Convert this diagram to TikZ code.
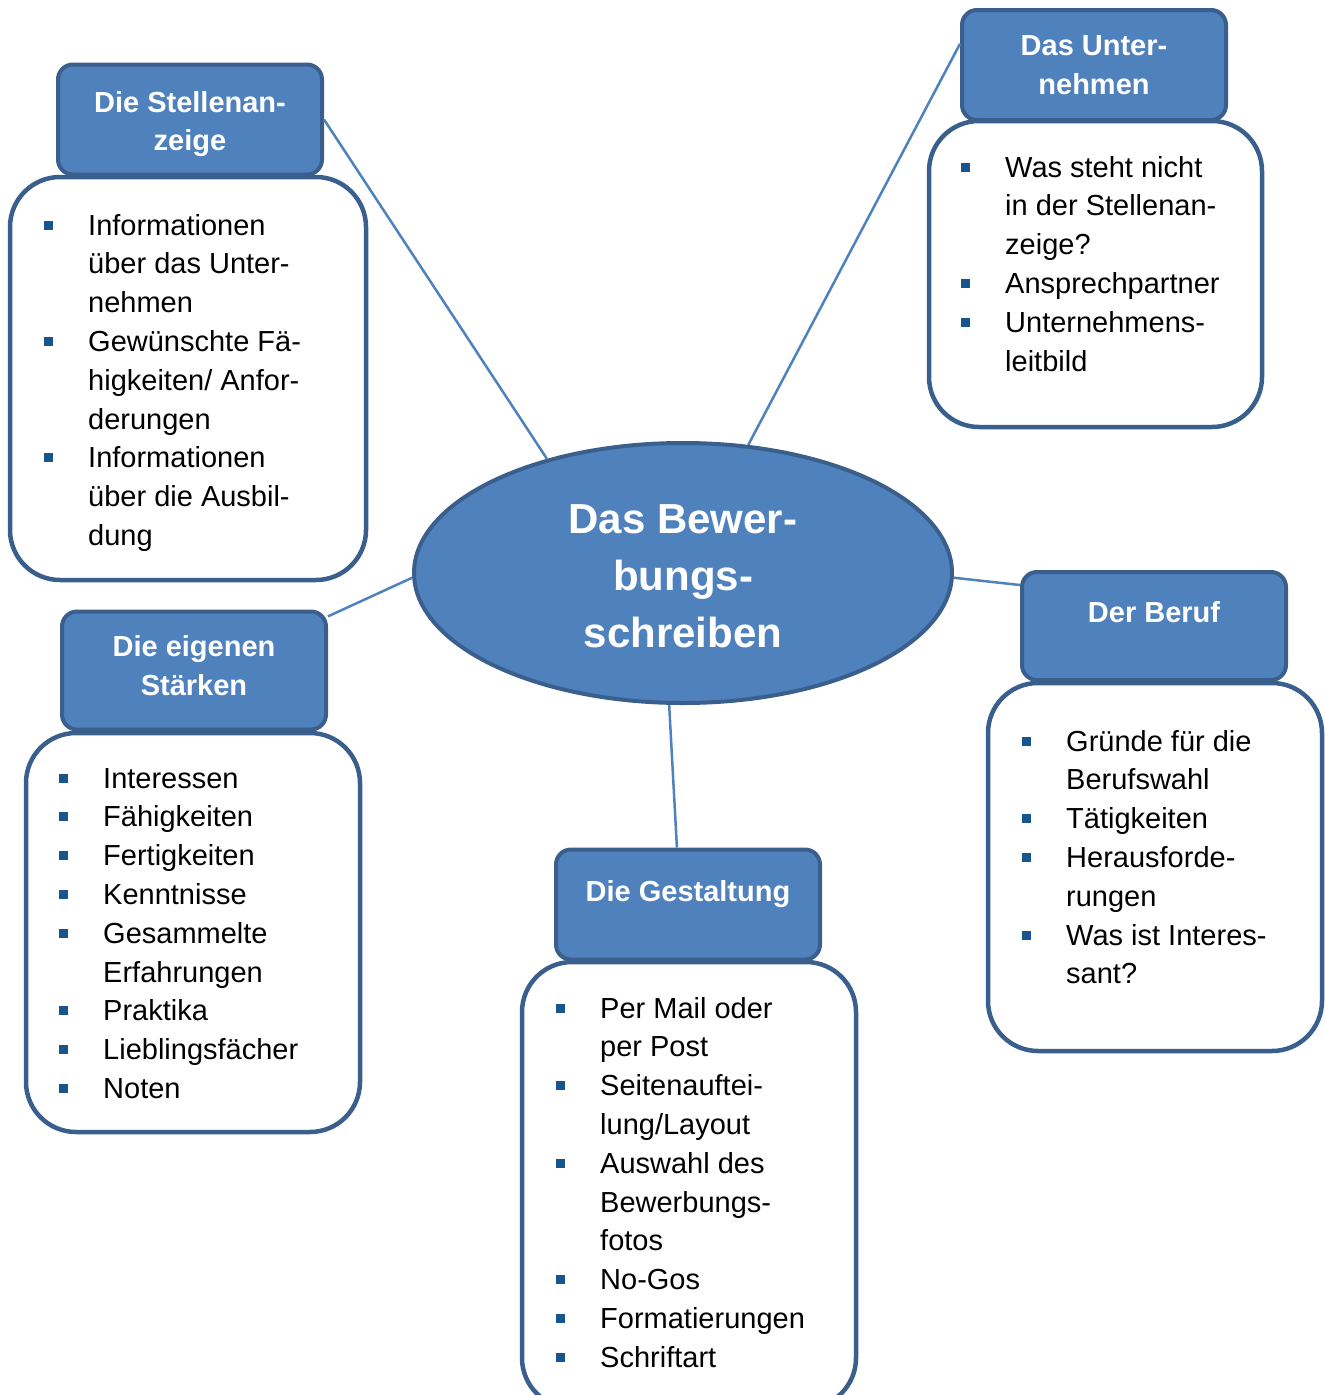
\documentclass[tikz,border=0pt]{standalone}
\usepackage{fontspec}
\setmainfont{Liberation Sans}
\usetikzlibrary{shapes.geometric}
\definecolor{fillb}{HTML}{4F81BD}
\definecolor{edgeb}{HTML}{3A5F8C}
\definecolor{bulc}{HTML}{17558F}
\newcommand\B{\llap{\textcolor{bulc}{\raisebox{5.5pt}{\rule{9pt}{9pt}}}\hspace{35.5pt}}}
\tikzset{
  hdr/.style={draw=edgeb, line width=4pt, fill=fillb, rounded corners=15pt,
    minimum width=264pt, minimum height=110pt, inner sep=0pt},
  bodybox/.style={draw=edgeb, line width=4.5pt, fill=white, rounded corners=50pt, inner sep=0pt},
  htxt/.style={anchor=base, text=white, font=\bfseries\fontsize{29}{35}\selectfont, inner sep=0pt},
  ctxt/.style={anchor=base, text=white, font=\bfseries\fontsize{42}{50}\selectfont, inner sep=0pt},
  item/.style={anchor=base west, font=\fontsize{29}{35}\selectfont, inner sep=0pt},
  link/.style={draw=fillb, line width=2.5pt}
}
\begin{document}
\begin{tikzpicture}[x=1pt,y=-1pt]
\useasboundingbox (0,0) rectangle (1325,1395);
\clip (0,0) rectangle (1325,1395);

% centre
\node[ellipse, draw=edgeb, line width=4pt, fill=fillb, minimum width=538pt, minimum height=260pt, inner sep=0pt] (ell) at (683,573) {};
\node[ctxt] (c1) at (683,533) {Das Bewer-};
\node[ctxt] (c2) at (683,590) {bungs-};
\node[ctxt] (c3) at (683,647) {schreiben};

% A: Stellenanzeige
\node[bodybox, minimum width=356pt, minimum height=403pt] (bA) at (188,378.5) {};
\node[hdr] (hA) at (190,119.5) {};
\node[htxt] (hA1) at (190,112) {Die Stellenan-};
\node[htxt] (hA2) at (190,150) {zeige};
\foreach \t [count=\i from 0] in {{\B Informationen},{über das Unter-},{nehmen},{\B Gewünschte Fä-},{higkeiten/ Anfor-},{derungen},{\B Informationen},{über die Ausbil-},{dung}}
  \node[item] (tA\i) at (88,{235+38.8*\i}) {\t};

% B: Unternehmen
\node[bodybox, minimum width=333pt, minimum height=306pt] (bB) at (1095.5,274) {};
\node[hdr] (hB) at (1094,65) {};
\node[htxt] (hB1) at (1094,55) {Das Unter-};
\node[htxt] (hB2) at (1094,94) {nehmen};
\foreach \t [count=\i from 0] in {{\B Was steht nicht},{in der Stellenan-},{zeige?},{\B Ansprechpartner},{\B Unternehmens-},{leitbild}}
  \node[item] (tB\i) at (1005,{177+38.8*\i}) {\t};

% C: eigene Staerken
\node[bodybox, minimum width=334pt, minimum height=399pt] (bC) at (193,932.5) {};
\node[hdr, minimum height=118pt] (hC) at (194,670.5) {};
\node[htxt] (hC1) at (194,656) {Die eigenen};
\node[htxt] (hC2) at (194,695) {Stärken};
\foreach \t [count=\i from 0] in {{\B Interessen},{\B Fähigkeiten},{\B Fertigkeiten},{\B Kenntnisse},{\B Gesammelte},{Erfahrungen},{\B Praktika},{\B Lieblingsfächer},{\B Noten}}
  \node[item] (tC\i) at (103,{788+38.8*\i}) {\t};

% D: Gestaltung
\node[bodybox, minimum width=334pt, minimum height=446pt] (bD) at (689,1185) {};
\node[hdr] (hD) at (688,904.5) {};
\node[htxt] (hD1) at (688,901) {Die Gestaltung};
\foreach \t [count=\i from 0] in {{\B Per Mail oder},{per Post},{\B Seitenauftei-},{lung/Layout},{\B Auswahl des},{Bewerbungs-},{fotos},{\B No-Gos},{\B Formatierungen},{\B Schriftart}}
  \node[item] (tD\i) at (600,{1018+38.8*\i}) {\t};

% E: Beruf
\node[bodybox, minimum width=334pt, minimum height=368pt] (bE) at (1155,867) {};
\node[hdr, minimum height=108pt] (hE) at (1154,626) {};
\node[htxt] (hE1) at (1154,622) {Der Beruf};
\foreach \t [count=\i from 0] in {{\B Gründe für die},{Berufswahl},{\B Tätigkeiten},{\B Herausforde-},{rungen},{\B Was ist Interes-},{sant?}}
  \node[item] (tE\i) at (1066,{751+38.8*\i}) {\t};

% connectors
\draw[link] (hA.east) -- (ell.140.7);
\draw[link] (hB.171.4) -- (ell.63.1);
\draw[link] (hC.22) -- (ell.181.9);
\draw[link] (hE.163.1) -- (ell.-1.7);
\draw[link] (hD.101.6) -- (ell.264.3);
\end{tikzpicture}
\end{document}
